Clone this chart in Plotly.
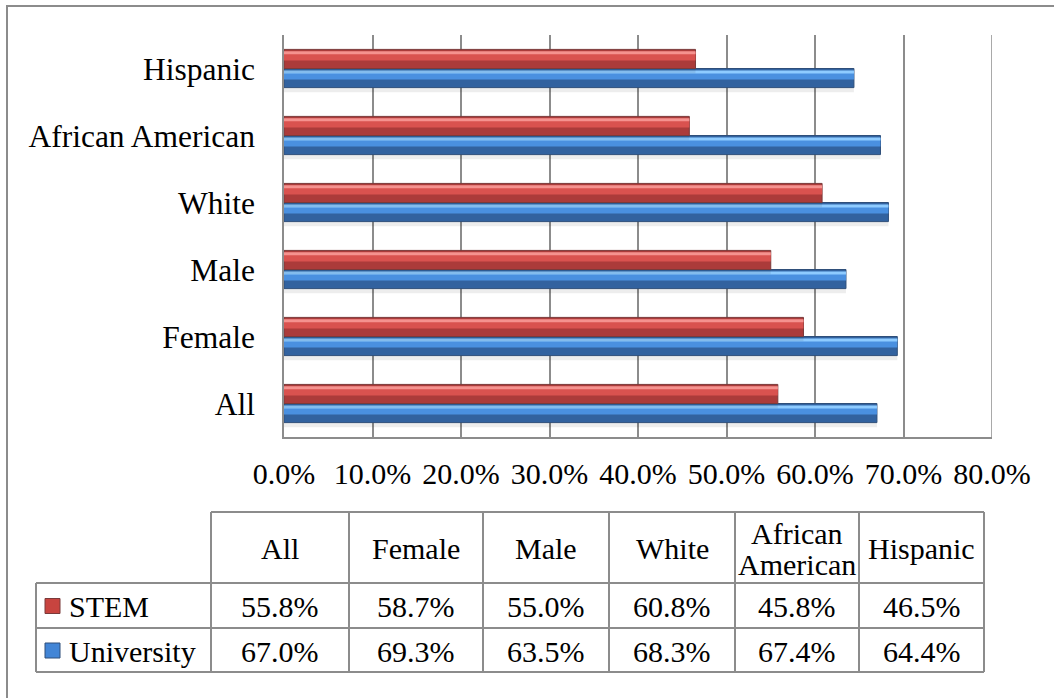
import plotly.graph_objects as go

# ---------------- data ----------------
categories = ["All", "Female", "Male", "White", "African American", "Hispanic"]
stem = [55.8, 58.7, 55.0, 60.8, 45.8, 46.5]
university = [67.0, 69.3, 63.5, 68.3, 67.4, 64.4]
x_ticks = [0, 10, 20, 30, 40, 50, 60, 70, 80]
header_labels = ["All", "Female", "Male", "White", "African<br>American", "Hispanic"]
series_names = ["STEM", "University"]

# ---------------- style ----------------
W, H = 1054, 698
FONT = "Liberation Serif"
GRID = "#8c8c8c"


def px(x):
    return x / W


def py(y):
    return 1 - y / H


BW = 0.285  # bar thickness in category units

red = dict(base="#ab3b3a", mid="#d9524f", hi="#f5928f", line="#7a3a3a", key="#c8443f")
blue = dict(base="#32629f", mid="#4a90e0", hi="#8ecbff", line="#2f4f7a", key="#4285d6")

fig = go.Figure()


def add_bar(vals, name, off, pal):
    fig.add_trace(go.Bar(x=vals, y=categories, orientation="h", offset=off - 0.07, width=0.07,
                         marker=dict(color="rgba(0,0,0,0.07)", line=dict(width=0)),
                         showlegend=False, hoverinfo="skip"))
    fig.add_trace(go.Bar(x=vals, y=categories, orientation="h", offset=off, width=BW, name=name,
                         marker=dict(color=pal["base"], line=dict(color=pal["line"], width=1)),
                         showlegend=False))
    fig.add_trace(go.Bar(x=vals, y=categories, orientation="h", offset=off + 0.42 * BW, width=0.46 * BW,
                         marker=dict(color=pal["mid"], line=dict(width=0)),
                         showlegend=False, hoverinfo="skip"))
    fig.add_trace(go.Bar(x=vals, y=categories, orientation="h", offset=off + 0.74 * BW, width=0.16 * BW,
                         marker=dict(color=pal["hi"], line=dict(width=0)),
                         showlegend=False, hoverinfo="skip"))


add_bar(university, series_names[1], -BW, blue)
add_bar(stem, series_names[0], 0.0, red)

# ---------------- data table (lines + text) ----------------
col_edges = [36, 211, 349, 483, 609, 735, 859, 984]
row_edges = [512, 583, 628, 672]
shapes = []
annotations = []


def hline(y, x0, x1):
    shapes.append(dict(type="line", xref="paper", yref="paper", x0=px(x0), x1=px(x1),
                       y0=py(y), y1=py(y), line=dict(color=GRID, width=2)))


def vline(x, y0, y1):
    shapes.append(dict(type="line", xref="paper", yref="paper", x0=px(x), x1=px(x),
                       y0=py(y0), y1=py(y1), line=dict(color=GRID, width=2)))


hline(row_edges[0], col_edges[1], col_edges[-1])
for y in row_edges[1:]:
    hline(y, col_edges[0], col_edges[-1])
vline(col_edges[0], row_edges[1], row_edges[-1])
for x in col_edges[1:]:
    vline(x, row_edges[0], row_edges[-1])


def text(s, x, y, size=30, anchor="center"):
    annotations.append(dict(text=s, xref="paper", yref="paper", x=px(x), y=py(y),
                            xanchor=anchor, yanchor="middle", showarrow=False,
                            font=dict(family=FONT, size=size, color="black")))


for i, lab in enumerate(header_labels):
    cx = (col_edges[i + 1] + col_edges[i + 2]) / 2
    cy = (row_edges[0] + row_edges[1]) / 2
    lines = lab.split("<br>")
    n = len(lines)
    for j, ln in enumerate(lines):
        text(ln, cx, cy + (j - (n - 1) / 2) * 31 + 1)

series_vals = [stem, university]
pals = [red, blue]
for r in range(2):
    cy = (row_edges[r + 1] + row_edges[r + 2]) / 2 + 1
    shapes.append(dict(type="rect", xref="paper", yref="paper",
                       x0=px(45), x1=px(60), y0=py(cy - 8), y1=py(cy + 7),
                       fillcolor=pals[r]["key"], line=dict(color=pals[r]["line"], width=1)))
    text(series_names[r], 67, cy, anchor="left")
    for i, v in enumerate(series_vals[r]):
        cx = (col_edges[i + 1] + col_edges[i + 2]) / 2
        text(f"{v:.1f}%", cx, cy)

# right-most gridline at 80%
shapes.append(dict(type="line", xref="x", yref="y domain", x0=80, x1=80, y0=0, y1=1,
                   line=dict(color=GRID, width=1.5)))
# outer chart border
shapes.append(dict(type="rect", xref="paper", yref="paper",
                   x0=px(7), x1=1.05, y0=-0.05, y1=py(6),
                   line=dict(color=GRID, width=2), fillcolor="rgba(0,0,0,0)", layer="below"))

fig.update_layout(
    width=W, height=H,
    margin=dict(l=0, r=0, t=0, b=0),
    paper_bgcolor="white", plot_bgcolor="white",
    barmode="overlay",
    showlegend=False,
    font=dict(family=FONT, color="black"),
    xaxis=dict(domain=[px(284), px(992)], range=[0, 80], tickvals=x_ticks,
               ticktext=[f"{v:.1f}%" for v in x_ticks],
               showgrid=True, gridcolor=GRID, gridwidth=1.5,
               showline=True, linecolor=GRID, linewidth=1.5,
               zeroline=False, ticks="", ticklabelstandoff=9, automargin=False,
               tickfont=dict(family=FONT, size=30, color="black"),
               fixedrange=True),
    yaxis=dict(domain=[py(437), py(35)], range=[-0.5, 5.5], type="category",
               categoryorder="array", categoryarray=categories,
               showgrid=False, showline=True, linecolor=GRID, linewidth=1.5,
               zeroline=False, ticks="", ticklabelstandoff=21, automargin=False,
               tickfont=dict(family=FONT, size=31.5, color="black"),
               fixedrange=True),
    shapes=shapes,
    annotations=annotations,
)

fig.write_html("out.html")
